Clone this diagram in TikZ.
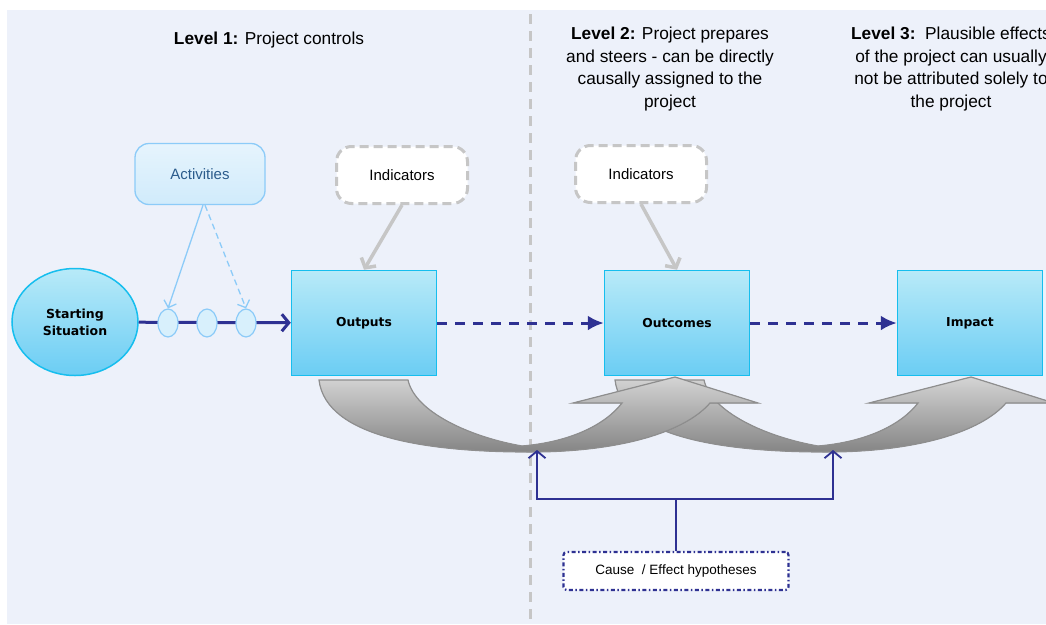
\documentclass[tikz,border=0pt]{standalone}
\usepackage{fontspec}
\setmainfont{Liberation Sans}
\newfontfamily\boxfont{DejaVu Sans}
\usepackage{tikz}
\usetikzlibrary{arrows.meta,positioning,shapes.geometric}

\definecolor{bgblue}{HTML}{EDF1FA}
\definecolor{navy}{HTML}{2E3192}
\definecolor{boxtop}{HTML}{B8EAF8}
\definecolor{boxbot}{HTML}{6BCDF4}
\definecolor{boxline}{HTML}{16BEEE}
\definecolor{actline}{HTML}{8CCBF8}
\definecolor{acttop}{HTML}{E6F4FD}
\definecolor{actbot}{HTML}{D0EBFB}
\definecolor{acttext}{HTML}{2B5C8C}
\definecolor{beadfill}{HTML}{D8F0FC}
\definecolor{indline}{HTML}{C6C6C6}
\definecolor{bigtop}{HTML}{D4D4D4}
\definecolor{bigbot}{HTML}{858585}
\definecolor{bigline}{HTML}{8E8E8E}

\begin{document}
\begin{tikzpicture}[x=1pt,y=-1pt,
  stage/.style={rectangle, draw=boxline, line width=1.5pt, top color=boxtop, bottom color=boxbot,
    minimum width=145pt, minimum height=105pt, font=\boxfont\bfseries\fontsize{12.3}{17}\selectfont},
  bead/.style={ellipse, draw=actline, line width=1.2pt, fill=beadfill, minimum width=20pt,
    minimum height=28pt, inner sep=0pt},
  indic/.style={rectangle, rounded corners=15pt, draw=indline, line width=3pt,
    dash pattern=on 9pt off 5pt, fill=white, minimum width=131pt, minimum height=57pt,
    font=\fontsize{15}{18}\selectfont},
  heading/.style={align=center, font=\fontsize{17.3}{22.5}\selectfont},
  flow/.style={draw=navy, line width=3pt, dash pattern=on 10pt off 8pt, -{Latex[length=16pt,width=15pt]}},
  pointer/.style={draw=indline, line width=3.5pt, -{Straight Barb[length=7pt,width=17pt]}},
  feed/.style={draw=actline, line width=1.3pt, -{Straight Barb[length=6pt,width=13pt]}},
  link/.style={draw=navy, line width=1.8pt},
  bigarrow/.style={draw=bigline, line width=1.2pt, top color=bigtop, bottom color=bigbot}
]
\clip (0,0) rectangle (1046,624);
\fill[white] (0,0) rectangle (1046,624);
\fill[bgblue] (7,10) rectangle (1046,624);

% level divider
\draw[indline, line width=3pt, dash pattern=on 10pt off 7pt] (530,14) -- (530,624);

% headings
\node[heading] (lv1) at (269,40) {\textbf{Level 1:} Project controls};
\node[heading] (lv2) at (670,69) {\textbf{Level 2:} Project prepares\\and steers - can be directly\\causally assigned to the\\project};
\node[heading] (lv3) at (951,69) {\textbf{Level 3:}\ \ Plausible effects\\of the project can usually\\not be attributed solely to\\the project};

% big curved arrows
\foreach \s in {296,0}
  \filldraw[bigarrow, xshift=\s] (319,380) .. controls (326,438) and (430,452) .. (530,452)
    .. controls (620,452) and (685,432) .. (710,403) -- (758,403) -- (675,377) -- (573,403)
    -- (622,403) .. controls (605,425) and (570,442) .. (522,446)
    .. controls (470,437) and (415,412) .. (408,380) -- cycle;

% main chain
\node[ellipse, draw=boxline, line width=1.5pt, top color=boxtop, bottom color=boxbot,
  minimum width=126pt, minimum height=107pt, align=center,
  font=\boxfont\bfseries\fontsize{12.5}{17}\selectfont] (start) at (75,322) {Starting\\Situation};
\node[stage] (out) at (364,323) {Outputs};
\node[stage] (outc) at (677,323) {Outcomes};
\node[stage] (imp) at (970,323) {Impact};

\draw[navy, line width=3pt, -{Straight Barb[length=7pt,width=17pt]}] (start) -- (out);
\node[bead] (b1) at (168,323) {};
\node[bead] (b2) at (207,323) {};
\node[bead] (b3) at (246,323) {};

\draw[flow] (out) -- (outc);
\draw[flow] (outc) -- (imp);

% activities
\node[rectangle, rounded corners=14pt, draw=actline, line width=1.3pt, top color=acttop,
  bottom color=actbot, minimum width=130pt, minimum height=61pt, text=acttext,
  font=\fontsize{15}{18}\selectfont] (act) at (200,174) {Activities};
\draw[feed] ([xshift=3]act.south) -- (b1.north);
\draw[feed, dash pattern=on 6pt off 4pt] ([xshift=5]act.south) -- (b3.north);

% indicators
\node[indic] (ind1) at (402,175) {Indicators};
\node[indic] (ind2) at (641,174) {Indicators};
\draw[pointer] (ind1.south) -- (out.north);
\draw[pointer] (ind2.south) -- (outc.north);

% hypotheses
\node[rectangle, rounded corners=3pt, draw=navy, line width=2.2pt,
  dash pattern=on 4pt off 2.5pt on 1.5pt off 2.5pt, fill=white, minimum width=225pt,
  minimum height=38pt, font=\fontsize{13.5}{16}\selectfont] (hyp) at (676,571) {Cause\ \ / Effect hypotheses};
\coordinate (h1) at (537,450);
\coordinate (h2) at (833,450);
\draw[link, -{Straight Barb[length=7pt,width=17pt]}] (hyp.north) -- ++(0,-52) -| (h1);
\draw[link, -{Straight Barb[length=7pt,width=17pt]}] (hyp.north) -- ++(0,-52) -| (h2);
\end{tikzpicture}
\end{document}
